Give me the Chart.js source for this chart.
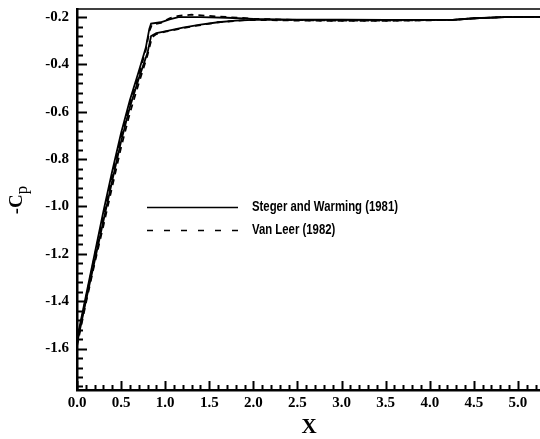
<!DOCTYPE html>
<html><head><meta charset="utf-8">
<script src="https://cdn.jsdelivr.net/npm/chart.js@4/dist/chart.umd.min.js"></script>
<style>html,body{margin:0;padding:0;background:#fff}#wrap{width:540px;height:439px}</style>
</head><body><div id="wrap"><canvas id="c" width="540" height="439"></canvas></div>
<script>
// ---- data ----
const seriesNames = ["Steger and Warming (1981)", "Van Leer (1982)"];
const xTickLabels = ["0.0","0.5","1.0","1.5","2.0","2.5","3.0","3.5","4.0","4.5","5.0"];
const yTickLabels = ["-0.2","-0.4","-0.6","-0.8","-1.0","-1.2","-1.4","-1.6"];

// Steger & Warming, upper branch
const swUpperX = [0, 0.1, 0.2, 0.3, 0.4, 0.5, 0.6, 0.7, 0.78, 0.82, 0.84, 0.95, 1.05, 1.15, 1.4, 1.7, 2.0, 2.5, 3.0, 3.5, 4.0, 4.26, 4.5, 4.85, 5.25];
const swUpperY = [-1.56, -1.38, -1.20, -1.02, -0.85, -0.69, -0.55, -0.43, -0.33, -0.25, -0.228, -0.222, -0.21, -0.2, -0.2, -0.203, -0.208, -0.212, -0.212, -0.212, -0.212, -0.212, -0.206, -0.2, -0.199];
// Steger & Warming, lower branch
const swLowerX = [0, 0.1, 0.2, 0.3, 0.4, 0.5, 0.6, 0.7, 0.8, 0.84, 0.9, 1.0, 1.2, 1.4, 1.6, 1.8, 2.0, 2.5, 3.0, 3.5, 4.0, 4.26, 4.5, 4.85, 5.25];
const swLowerY = [-1.58, -1.40, -1.23, -1.06, -0.89, -0.725, -0.58, -0.46, -0.35, -0.28, -0.268, -0.26, -0.245, -0.232, -0.222, -0.215, -0.212, -0.211, -0.211, -0.212, -0.212, -0.212, -0.205, -0.2, -0.199];
// Van Leer, upper branch
const vlUpperX = [0, 0.1, 0.2, 0.3, 0.4, 0.5, 0.6, 0.7, 0.78, 0.82, 0.85, 0.95, 1.05, 1.15, 1.3, 1.5, 1.7, 2.0, 2.5, 3.0, 3.5, 4.0, 4.26, 4.5, 4.85, 5.25];
const vlUpperY = [-1.57, -1.39, -1.21, -1.04, -0.87, -0.705, -0.565, -0.445, -0.34, -0.26, -0.232, -0.225, -0.205, -0.195, -0.19, -0.195, -0.2, -0.207, -0.213, -0.215, -0.215, -0.213, -0.212, -0.205, -0.2, -0.199];
// Van Leer, lower branch
const vlLowerX = [0, 0.1, 0.2, 0.3, 0.4, 0.5, 0.6, 0.7, 0.8, 0.85, 0.9, 1.0, 1.3, 1.6, 1.9, 2.2, 2.5, 3.0, 3.5, 4.0, 4.26, 4.5, 4.85, 5.25];
const vlLowerY = [-1.59, -1.41, -1.24, -1.08, -0.915, -0.75, -0.605, -0.48, -0.36, -0.285, -0.272, -0.262, -0.24, -0.222, -0.213, -0.213, -0.215, -0.216, -0.216, -0.214, -0.212, -0.206, -0.2, -0.199];

const pts = (xs, ys) => xs.map((x, i) => ({x: x, y: ys[i]}));

const xMin = 0, xMax = 5.25, yMin = -1.775, yMax = -0.166;

const serif = "'Liberation Serif', 'DejaVu Serif', serif";
const sans = "'Liberation Sans', Arial, sans-serif";

const decor = {
  id: 'decor',
  afterDraw(chart) {
    const ctx = chart.ctx, xs = chart.scales.x, ys = chart.scales.y, a = chart.chartArea;
    ctx.save();
    ctx.strokeStyle = '#000';
    // top frame line
    ctx.lineWidth = 1.5;
    ctx.beginPath(); ctx.moveTo(a.left, a.top); ctx.lineTo(540, a.top); ctx.stroke();
    // inward ticks
    ctx.lineWidth = 2;
    for (let i = 0; i <= 60; i++) {
      const v = i * 0.1; if (v > xMax + 1e-9) break;
      const px = Math.round(xs.getPixelForValue(v)) + 0.5;
      const len = (i % 5 === 0) ? 9 : 5;
      ctx.beginPath(); ctx.moveTo(px, a.bottom); ctx.lineTo(px, a.bottom - len); ctx.stroke();
    }
    for (let i = 0; i <= 60; i++) {
      const v = -0.2 - i * 0.04; if (v < yMin - 1e-9) break;
      const py = Math.round(ys.getPixelForValue(v)) + 0.5;
      const len = (i % 5 === 0) ? 10 : 6;
      ctx.beginPath(); ctx.moveTo(a.left, py); ctx.lineTo(a.left + len, py); ctx.stroke();
    }
    // legend
    const lx0 = 147, lx1 = 238, tx = 252;
    const rows = [{y: 207, dash: []}, {y: 230, dash: [6, 11]}];
    ctx.font = 'bold 15px ' + sans;
    ctx.fillStyle = '#000';
    ctx.textBaseline = 'middle';
    const sx = 146 / ctx.measureText(seriesNames[0]).width;
    rows.forEach((r, i) => {
      ctx.lineWidth = 1.6;
      ctx.setLineDash(r.dash);
      ctx.beginPath(); ctx.moveTo(lx0, r.y + 0.5); ctx.lineTo(lx1, r.y + 0.5); ctx.stroke();
      ctx.setLineDash([]);
      ctx.save();
      ctx.translate(tx, r.y);
      ctx.scale(sx, 1);
      ctx.fillText(seriesNames[i], 0, 0);
      ctx.restore();
    });
    // axis titles
    ctx.font = 'bold 21px ' + serif;
    ctx.textAlign = 'center';
    ctx.fillText('X', 309, 428);
    ctx.save();
    ctx.translate(16, 200);
    ctx.rotate(-Math.PI / 2);
    ctx.font = 'bold 19px ' + serif;
    ctx.textAlign = 'left';
    ctx.textBaseline = 'alphabetic';
    const t1 = '-C';
    const w1 = ctx.measureText(t1).width;
    const w2 = ctx.measureText('p').width;
    const start = -(w1 + w2 * 0.8) / 2;
    ctx.fillText(t1, start, 6);
    ctx.font = '17px ' + serif;
    ctx.fillText('p', start + w1, 11);
    ctx.restore();
    ctx.restore();
  }
};

const common = {borderColor: '#000', borderWidth: 1.8, pointRadius: 0, showLine: true, tension: 0, fill: false};

new Chart(document.getElementById('c'), {
  type: 'scatter',
  data: {
    datasets: [
      Object.assign({label: seriesNames[0], data: pts(swUpperX, swUpperY)}, common),
      Object.assign({label: seriesNames[0], data: pts(swLowerX, swLowerY)}, common),
      Object.assign({label: seriesNames[1], data: pts(vlUpperX, vlUpperY), borderDash: [6, 5]}, common),
      Object.assign({label: seriesNames[1], data: pts(vlLowerX, vlLowerY), borderDash: [6, 5]}, common)
    ]
  },
  options: {
    responsive: false,
    animation: false,
    clip: false,
    layout: {padding: {top: 9, right: 0, left: 0, bottom: 0}},
    plugins: {legend: {display: false}, tooltip: {enabled: false}},
    scales: {
      x: {
        type: 'linear', min: xMin, max: xMax,
        grid: {display: false, drawTicks: false},
        border: {display: true, color: '#000', width: 2.5},
        afterFit: s => { s.height = 49; s.paddingLeft = 0; s.paddingRight = 0; },
        afterBuildTicks: s => { s.ticks = xTickLabels.map(t => ({value: parseFloat(t)})); },
        ticks: {
          autoSkip: false, maxRotation: 0, padding: 4, color: '#000',
          font: {family: serif, size: 15, weight: 'bold'},
          callback: (v, i) => xTickLabels[i]
        }
      },
      y: {
        type: 'linear', min: yMin, max: yMax,
        grid: {display: false, drawTicks: false},
        border: {display: true, color: '#000', width: 2.5},
        afterFit: s => { s.width = 77; s.paddingTop = 0; s.paddingBottom = 0; },
        afterBuildTicks: s => { s.ticks = yTickLabels.map(t => ({value: parseFloat(t)})); },
        ticks: {
          autoSkip: false, padding: 8, color: '#000',
          font: {family: serif, size: 15, weight: 'bold'},
          callback: (v, i) => yTickLabels[i]
        }
      }
    }
  },
  plugins: [decor]
});
</script>
</body></html>
